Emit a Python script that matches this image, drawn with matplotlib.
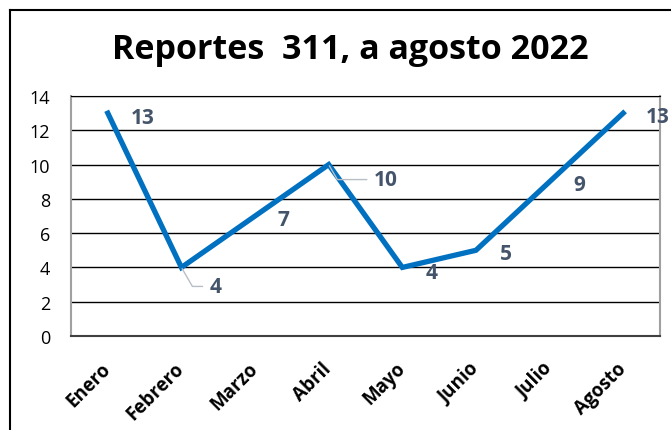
import matplotlib
matplotlib.use("Agg")
import matplotlib.pyplot as plt
from matplotlib.lines import Line2D

plt.rcParams['font.family'] = ['Open Sans', 'DejaVu Sans']

meses = ["Enero", "Febrero", "Marzo", "Abril", "Mayo", "Junio", "Julio", "Agosto"]
reportes = [13, 4, 7, 10, 4, 5, 9, 13]

# label offsets in pixels (dx, dy), and which ones get a leader line
offsets = [(35, -4), (34, -19), (28, -4), (57, -15), (29, -5), (30, -3), (30, -3), (34, -3)]
leader = [False, True, False, True, False, False, False, False]

W, H = 671, 431
fig = plt.figure(figsize=(W / 100, H / 100), dpi=100)
ax = fig.add_axes([71 / W, 1 - 337 / H, (660 - 71) / W, (337 - 97) / H])

x = list(range(len(meses)))
ax.plot(x, reportes, color="#0070C0", linewidth=3.8, solid_joinstyle="miter", zorder=3)

ax.set_ylim(0, 14)
ax.set_xlim(-0.5, len(meses) - 0.5)
ax.set_yticks(range(0, 15, 2))
ax.yaxis.grid(True, color="black", linewidth=1.0)
ax.set_axisbelow(True)
ax.tick_params(axis="both", length=0)
ax.tick_params(axis="y", labelsize=13, pad=15)
ax.set_xticks(x)
ax.set_xticklabels(meses, rotation=45, ha="right", va="center",
                   rotation_mode="anchor", fontsize=13.5, fontweight="bold")
ax.tick_params(axis="x", pad=21)

for side in ["left", "right"]:
    ax.spines[side].set_color("#A0A0A0")
    ax.spines[side].set_linewidth(1.5)
ax.spines["top"].set_color("black")
ax.spines["bottom"].set_color("#404040")
ax.spines["bottom"].set_linewidth(1.5)

for i, v in enumerate(reportes):
    dx, dy = offsets[i]
    if leader[i]:
        ax.annotate(str(v), (i, v), xytext=(dx, dy), textcoords="offset pixels",
                    ha="center", va="center", fontsize=15, fontweight="bold",
                    color="#44546A", annotation_clip=False, zorder=4,
                    arrowprops=dict(arrowstyle="-", color="#B8BEC6", lw=1,
                                    shrinkA=3, shrinkB=1, relpos=(0, 0.5),
                                    connectionstyle="angle,angleA=0,angleB=-60,rad=0"))
    else:
        ax.annotate(str(v), (i, v), xytext=(dx, dy), textcoords="offset pixels",
                    ha="center", va="center", fontsize=15, fontweight="bold",
                    color="#44546A", annotation_clip=False, zorder=4)

fig.text(350 / W, 1 - 50 / H, "Reportes  311, a agosto 2022", ha="center", va="center",
         fontsize=24.5, fontweight="bold")

# chart frame (cropped at right and bottom)
fig.add_artist(Line2D([10 / W, 1], [1 - 11 / H, 1 - 11 / H], color="black", linewidth=1.5))
fig.add_artist(Line2D([10 / W, 10 / W], [0, 1 - 11 / H], color="black", linewidth=1.5))

fig.savefig("out.png", dpi=100)
